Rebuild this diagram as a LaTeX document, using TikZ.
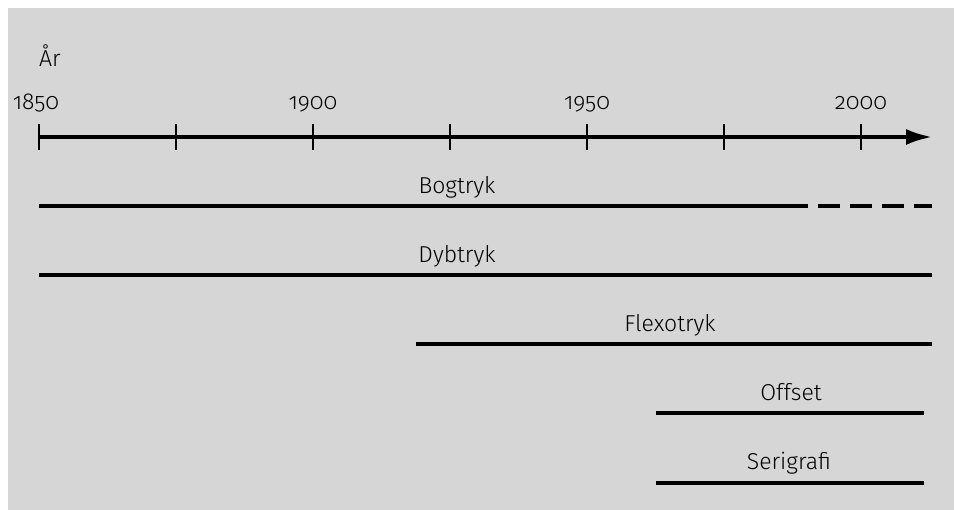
\documentclass[tikz,border=0pt]{standalone}
\usepackage{fontspec}
\setmainfont{Fira Sans}[UprightFont=* Light, Numbers=OldStyle]
\usetikzlibrary{arrows.meta}
\definecolor{bggray}{HTML}{D6D6D6}
\tikzset{
  lbl/.style={anchor=base, inner sep=0pt, font=\fontsize{23}{27}\selectfont},
  bar/.style={line width=4pt},
  tickmark/.style={line width=2pt},
  axisline/.style={line width=4.5pt, -{Latex[length=27pt, width=16pt]}},
}
\begin{document}
\begin{tikzpicture}[x=1pt, y=-1pt]
\useasboundingbox (0,0) rectangle (954,510);
\fill[bggray] (8,8) rectangle (954,510);
% axis
\coordinate (a0) at (39,137);
\coordinate (a1) at (933,137);
\draw[axisline] (a0) -- (a1);
\foreach \x/\n in {39/t0,176/t1,313/t2,450/t3,587/t4,724/t5,861/t6}{
  \coordinate (\n u) at (\x,124);
  \coordinate (\n d) at (\x,150);
  \draw[tickmark] (\n u) -- (\n d);
}
\node[lbl] (ar) at (50,67) {År};
\node[lbl] (y1850) at (36,110) {1850};
\node[lbl] (y1900) at (313,110) {1900};
\node[lbl] (y1950) at (587,110) {1950};
\node[lbl] (y2000) at (861,110) {2000};
% Bogtryk
\node[lbl] (bog) at (457,194) {Bogtryk};
\coordinate (b0) at (39,206);
\coordinate (b1) at (808,206);
\coordinate (b2) at (818,206);
\coordinate (b3) at (932,206);
\draw[bar] (b0) -- (b1);
\draw[bar, dash pattern=on 22pt off 10pt] (b2) -- (b3);
% Dybtryk
\node[lbl] (dyb) at (457,263) {Dybtryk};
\coordinate (d0) at (39,275);
\coordinate (d1) at (932,275);
\draw[bar] (d0) -- (d1);
% Flexotryk
\node[lbl] (flex) at (670,332) {Flexotryk};
\coordinate (f0) at (416,344);
\coordinate (f1) at (932,344);
\draw[bar] (f0) -- (f1);
% Offset
\node[lbl] (off) at (791,401) {Offset};
\coordinate (o0) at (656,413);
\coordinate (o1) at (924,413);
\draw[bar] (o0) -- (o1);
% Serigrafi
\node[lbl] (ser) at (789,470) {Serigrafi};
\coordinate (s0) at (656,483);
\coordinate (s1) at (924,483);
\draw[bar] (s0) -- (s1);
\end{tikzpicture}
\end{document}
